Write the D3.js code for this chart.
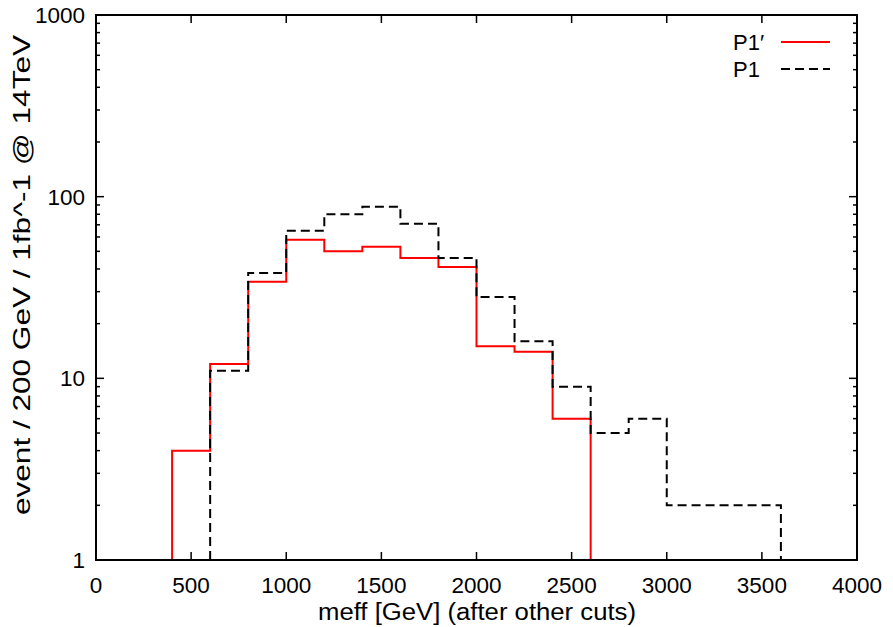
<!DOCTYPE html>
<html><head><meta charset="utf-8">
<script src="https://cdn.jsdelivr.net/npm/d3@7"></script>
<style>body{margin:0;background:#fff}svg{display:block}text{font-family:"Liberation Sans",Helvetica,Arial,sans-serif;fill:#000}</style>
</head><body><svg id="c" width="893" height="627"></svg>
<script>
// Data
const binWidth = 200;
const p1primeStart = 400;
const p1primeValues = [4, 12, 34, 58, 50, 53, 46, 41, 15, 14, 6, 0, 0, 0, 0];
const p1Start = 600;
const p1Values = [11, 38, 65, 80, 88, 71, 46, 28, 16, 9, 5, 6, 2, 2, 2];
const xTicks = [0, 500, 1000, 1500, 2000, 2500, 3000, 3500, 4000];
const yTicks = [1, 10, 100, 1000];
const legendLabels = ["P1\u2032", "P1"];

const W = 893, H = 627;
const m = {left: 96, right: 857, top: 15, bottom: 560};
const svg = d3.select("#c");
const x = d3.scaleLinear().domain([0, 4000]).range([m.left, m.right]);
const y = d3.scaleLog().domain([1, 1000]).range([m.bottom, m.top]);
const floorV = 1;

function stepPts(start, vals) {
  const pts = [[start, floorV]];
  vals.forEach((v, i) => {
    const lo = start + i * binWidth, hi = lo + binWidth;
    const vv = Math.max(v, floorV);
    pts.push([lo, vv]); pts.push([hi, vv]);
  });
  pts.push([start + vals.length * binWidth, floorV]);
  return pts;
}
const line = d3.line().x(d => x(d[0])).y(d => y(d[1]));

const g = svg.append("g");
xTicks.forEach(t => {
  [[m.bottom, -8], [m.top, 8]].forEach(([yy, len]) => {
    g.append("line").attr("x1", x(t)).attr("x2", x(t)).attr("y1", yy).attr("y2", yy + len)
      .attr("stroke", "#000").attr("stroke-width", 1.5);
  });
  g.append("text").attr("x", x(t)).attr("y", 593).attr("text-anchor", "middle")
    .attr("font-size", 22.5).text(t);
});
for (let d = 0; d < 3; d++) {
  for (let k = 1; k <= 9; k++) {
    const v = k * Math.pow(10, d);
    const len = k === 1 ? 8 : 4;
    [[m.left, len], [m.right, -len]].forEach(([xx, l]) => {
      g.append("line").attr("x1", xx).attr("x2", xx + l).attr("y1", y(v)).attr("y2", y(v))
        .attr("stroke", "#000").attr("stroke-width", 1.5);
    });
  }
}
[[m.left, 8], [m.right, -8]].forEach(([xx, l]) => g.append("line").attr("x1", xx).attr("x2", xx + l)
  .attr("y1", y(1000)).attr("y2", y(1000)).attr("stroke", "#000").attr("stroke-width", 1.5));
yTicks.forEach(t => {
  g.append("text").attr("x", 85).attr("y", y(t) + 8).attr("text-anchor", "end")
    .attr("font-size", 22.5).text(t);
});

svg.append("path").attr("d", line(stepPts(p1primeStart, p1primeValues)))
  .attr("fill", "none").attr("stroke", "#ff0000").attr("stroke-width", 2);
svg.append("path").attr("d", line(stepPts(p1Start, p1Values)))
  .attr("fill", "none").attr("stroke", "#000").attr("stroke-width", 2).attr("stroke-dasharray", "9,5");

svg.append("rect").attr("x", m.left).attr("y", m.top).attr("width", m.right - m.left)
  .attr("height", m.bottom - m.top).attr("fill", "none").attr("stroke", "#000").attr("stroke-width", 2);

const leg = svg.append("g");
legendLabels.forEach((lab, i) => {
  const yy = 42 + i * 27;
  leg.append("text").attr("x", 733).attr("y", yy + 8).attr("text-anchor", "start")
    .attr("font-size", 22).attr("font-family", "'DejaVu Sans Condensed','DejaVu Sans',sans-serif")
    .text(lab);
  const l = leg.append("line").attr("x1", 781).attr("x2", 830).attr("y1", yy).attr("y2", yy)
    .attr("stroke-width", 2);
  if (i === 0) l.attr("stroke", "#ff0000");
  else l.attr("stroke", "#000").attr("stroke-dasharray", "9,5");
});

svg.append("text").attr("x", 477).attr("y", 620).attr("text-anchor", "middle")
  .attr("font-size", 23).attr("textLength", 318).attr("lengthAdjust", "spacingAndGlyphs")
  .text("meff [GeV] (after other cuts)");
svg.append("text").attr("transform", "translate(30,275) rotate(-90)").attr("text-anchor", "middle")
  .attr("font-size", 24).attr("textLength", 480).attr("lengthAdjust", "spacingAndGlyphs")
  .text("event / 200 GeV / 1fb^-1 @ 14TeV");
</script></body></html>
